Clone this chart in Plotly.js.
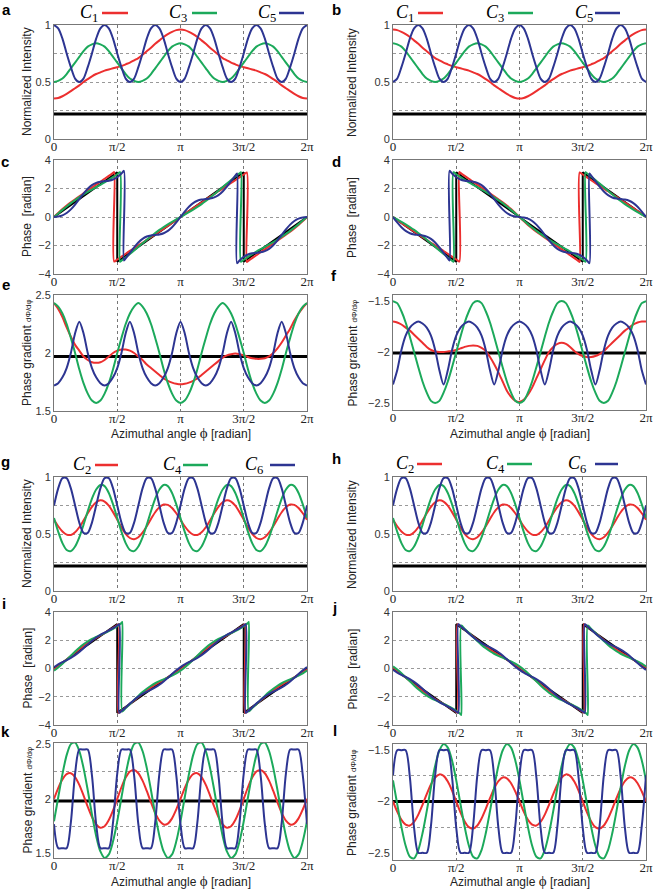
<!DOCTYPE html>
<html><head><meta charset="utf-8">
<script src="https://cdn.plot.ly/plotly-3.0.1.min.js"></script>
<style>html,body{margin:0;padding:0;background:#fff}#chart{width:654px;height:889px}</style>
</head><body><div id="chart"></div>
<script>
// azimuthal angle in units of pi
const PHI=[0,.0333,.0667,.1,.1333,.1667,.2,.2333,.2667,.3,.3333,.3667,.4,.4333,.4667,.5,.5333,.5667,.6,.6333,.6667,.7,.7333,.7667,.8,.8333,.8667,.9,.9333,.9667,1,1.0333,1.0667,1.1,1.1333,1.1667,1.2,1.2333,1.2667,1.3,1.3333,1.3667,1.4,1.4333,1.4667,1.5,1.5333,1.5667,1.6,1.6333,1.6667,1.7,1.7333,1.7667,1.8,1.8333,1.8667,1.9,1.9333,1.9667,2];
const X_TICKS=[0,0.5,1,1.5,2];
const X_TICK_TEXT=['0','π/2','π','3π/2','2π'];
const REF_X=[0,2];

// ---- a ----
const A_C1=[.355,.36,.375,.395,.42,.445,.47,.50,.525,.55,.57,.585,.60,.61,.62,.63,.64,.655,.67,.69,.71,.74,.77,.80,.835,.865,.895,.92,.94,.955,.96,.955,.94,.92,.895,.865,.835,.80,.77,.74,.71,.69,.67,.655,.64,.63,.62,.61,.60,.585,.57,.55,.525,.50,.47,.445,.42,.395,.375,.36,.355];
const A_C3=[.50,.51,.53,.57,.62,.67,.72,.77,.81,.83,.84,.83,.81,.77,.72,.67,.62,.57,.53,.51,.50,.51,.53,.57,.62,.67,.72,.77,.81,.83,.84,.83,.81,.77,.72,.67,.62,.57,.53,.51,.50,.51,.53,.57,.62,.67,.72,.77,.81,.83,.84,.83,.81,.77,.72,.67,.62,.57,.53,.51,.50];
const A_C5=[1,.97,.88,.75,.63,.53,.5,.53,.63,.75,.88,.97,1,.97,.88,.75,.63,.53,.5,.53,.63,.75,.88,.97,1,.97,.88,.75,.63,.53,.5,.53,.63,.75,.88,.97,1,.97,.88,.75,.63,.53,.5,.53,.63,.75,.88,.97,1,.97,.88,.75,.63,.53,.5,.53,.63,.75,.88,.97,1];
const A_REF=[.22,.22];
// ---- b ----
const B_C1=[.96,.955,.94,.92,.895,.865,.835,.80,.77,.74,.71,.69,.67,.655,.64,.63,.62,.61,.60,.585,.57,.55,.525,.50,.47,.445,.42,.395,.375,.36,.355,.36,.375,.395,.42,.445,.47,.50,.525,.55,.57,.585,.60,.61,.62,.63,.64,.655,.67,.69,.71,.74,.77,.80,.835,.865,.895,.92,.94,.955,.96];
const B_C3=[.84,.83,.81,.77,.72,.67,.62,.57,.53,.51,.50,.51,.53,.57,.62,.67,.72,.77,.81,.83,.84,.83,.81,.77,.72,.67,.62,.57,.53,.51,.50,.51,.53,.57,.62,.67,.72,.77,.81,.83,.84,.83,.81,.77,.72,.67,.62,.57,.53,.51,.50,.51,.53,.57,.62,.67,.72,.77,.81,.83,.84];
const B_C5=[.5,.53,.63,.75,.88,.97,1,.97,.88,.75,.63,.53,.5,.53,.63,.75,.88,.97,1,.97,.88,.75,.63,.53,.5,.53,.63,.75,.88,.97,1,.97,.88,.75,.63,.53,.5,.53,.63,.75,.88,.97,1,.97,.88,.75,.63,.53,.5,.53,.63,.75,.88,.97,1,.97,.88,.75,.63,.53,.5];
const B_REF=[.22,.22];
// ---- c ----
const C_C1=[0,.289,.559,.808,1.038,1.247,1.457,1.666,1.866,2.065,2.274,2.474,2.683,2.883,3.092,-2.981,-2.782,-2.582,-2.383,-2.193,-1.994,-1.805,-1.605,-1.416,-1.216,-1.017,-.818,-.618,-.409,-.209,0,.209,.409,.618,.818,1.017,1.216,1.416,1.605,1.805,1.994,2.193,2.383,2.582,2.782,2.981,-3.092,-2.883,-2.683,-2.474,-2.274,-2.065,-1.866,-1.666,-1.457,-1.247,-1.038,-.808,-.559,-.289,0];
const C_C1_JX=[.476,1.524], C_C1_JF=[3.15,3.13], C_C1_JT=[-3.13,-3.15];
const C_C3=[0,.252,.501,.741,.971,1.187,1.39,1.579,1.758,1.928,2.094,2.261,2.431,2.61,2.799,3.002,-3.065,-2.835,-2.595,-2.347,-2.094,-1.842,-1.593,-1.353,-1.123,-.907,-.705,-.515,-.337,-.166,0,.166,.337,.515,.705,.907,1.124,1.353,1.594,1.842,2.094,2.347,2.595,2.836,3.065,-3.001,-2.799,-2.609,-2.431,-2.261,-2.094,-1.928,-1.757,-1.579,-1.389,-1.187,-.971,-.741,-.501,-.252,0];
const C_C3_JX=[.522,1.478], C_C3_JF=[3.14,3.14], C_C3_JT=[-3.14,-3.14];
const C_C5=[0,.034,.116,.278,.535,.872,1.257,1.641,1.979,2.235,2.397,2.479,2.513,2.548,2.629,2.792,3.048,-2.897,-2.513,-2.129,-1.791,-1.535,-1.372,-1.291,-1.257,-1.222,-1.141,-.978,-.722,-.384,0,.384,.722,.978,1.141,1.222,1.257,1.291,1.373,1.535,1.791,2.129,2.513,2.898,-3.048,-2.792,-2.629,-2.548,-2.513,-2.479,-2.397,-2.235,-1.978,-1.641,-1.256,-.872,-.535,-.278,-.116,-.034,0];
const C_C5_JX=[.553,1.447], C_C5_JF=[3.24,3.05], C_C5_JT=[-3.05,-3.24];
const C_REF_X=[0,.5,.5,1.5,1.5,2], C_REF=[0,3.14,-3.14,3.14,-3.14,0];
// ---- d ----
const D_C1=[0,-.209,-.409,-.618,-.818,-1.017,-1.216,-1.416,-1.605,-1.805,-1.994,-2.193,-2.383,-2.582,-2.782,-2.981,3.092,2.883,2.683,2.474,2.274,2.065,1.866,1.666,1.457,1.247,1.038,.808,.559,.289,0,-.289,-.559,-.808,-1.038,-1.247,-1.457,-1.666,-1.866,-2.065,-2.274,-2.474,-2.683,-2.883,-3.092,2.981,2.782,2.582,2.383,2.193,1.994,1.805,1.605,1.416,1.216,1.017,.818,.618,.409,.209,0];
const D_C1_JX=[.524,1.476], D_C1_JF=[-3.13,-3.15], D_C1_JT=[3.15,3.13];
const D_C3=[0,-.166,-.337,-.515,-.705,-.907,-1.124,-1.353,-1.594,-1.842,-2.094,-2.347,-2.595,-2.836,-3.065,3.001,2.799,2.609,2.431,2.261,2.094,1.928,1.757,1.579,1.389,1.187,.971,.741,.501,.252,0,-.252,-.501,-.741,-.971,-1.187,-1.39,-1.579,-1.758,-1.928,-2.094,-2.261,-2.431,-2.61,-2.799,-3.002,3.065,2.835,2.595,2.347,2.094,1.842,1.593,1.353,1.123,.907,.705,.515,.337,.166,0];
const D_C3_JX=[.478,1.522], D_C3_JF=[-3.14,-3.14], D_C3_JT=[3.14,3.14];
const D_C5=[0,-.384,-.722,-.978,-1.141,-1.222,-1.257,-1.291,-1.373,-1.535,-1.791,-2.129,-2.513,-2.898,3.048,2.792,2.629,2.548,2.513,2.479,2.397,2.235,1.978,1.641,1.256,.872,.535,.278,.116,.034,0,-.034,-.116,-.278,-.535,-.872,-1.257,-1.641,-1.979,-2.235,-2.397,-2.479,-2.513,-2.548,-2.629,-2.792,-3.048,2.897,2.513,2.129,1.791,1.535,1.372,1.291,1.257,1.222,1.141,.978,.722,.384,0];
const D_C5_JX=[.447,1.553], D_C5_JF=[-3.05,-3.24], D_C5_JT=[3.24,3.05];
const D_REF_X=[0,.5,.5,1.5,1.5,2], D_REF=[0,-3.14,3.14,-3.14,3.14,0];
// ---- e ----
const E_C1=[2.43,2.38,2.31,2.22,2.14,2.07,2.02,1.97,1.94,1.92,1.915,1.92,1.94,1.97,2.0,2.02,2.03,2.03,2.02,2.0,1.97,1.94,1.9,1.87,1.84,1.81,1.78,1.76,1.745,1.735,1.73,1.735,1.745,1.76,1.78,1.81,1.84,1.87,1.9,1.93,1.96,1.98,1.99,1.995,1.99,1.98,1.965,1.955,1.95,1.95,1.955,1.97,2.0,2.04,2.09,2.15,2.21,2.28,2.34,2.39,2.43];
const E_C3=[2.43,2.40,2.34,2.25,2.13,2.0,1.86,1.74,1.65,1.59,1.57,1.59,1.65,1.74,1.86,2.0,2.13,2.25,2.34,2.40,2.43,2.40,2.34,2.25,2.13,2.0,1.86,1.74,1.65,1.59,1.57,1.59,1.65,1.74,1.86,2.0,2.13,2.25,2.34,2.40,2.43,2.40,2.34,2.25,2.13,2.0,1.86,1.74,1.65,1.59,1.57,1.59,1.65,1.74,1.86,2.0,2.13,2.25,2.34,2.40,2.43];
const E_C5=[1.72,1.74,1.79,1.87,2.0,2.17,2.27,2.17,2.0,1.87,1.79,1.74,1.72,1.74,1.79,1.87,2.0,2.17,2.27,2.17,2.0,1.87,1.79,1.74,1.72,1.74,1.79,1.87,2.0,2.17,2.27,2.17,2.0,1.87,1.79,1.74,1.72,1.74,1.79,1.87,2.0,2.17,2.27,2.17,2.0,1.87,1.79,1.74,1.72,1.74,1.79,1.87,2.0,2.17,2.27,2.17,2.0,1.87,1.79,1.74,1.72];
const E_REF=[1.97,1.97];
// ---- f ----
const F_C1=[-1.70,-1.71,-1.73,-1.76,-1.79,-1.83,-1.87,-1.91,-1.95,-1.98,-1.995,-2.0,-2.0,-1.995,-1.99,-1.98,-1.965,-1.95,-1.94,-1.935,-1.94,-1.96,-1.99,-2.05,-2.12,-2.2,-2.29,-2.38,-2.44,-2.48,-2.49,-2.47,-2.42,-2.35,-2.26,-2.17,-2.08,-2.0,-1.95,-1.92,-1.91,-1.92,-1.95,-1.99,-2.02,-2.04,-2.05,-2.05,-2.04,-2.02,-1.99,-1.95,-1.91,-1.87,-1.83,-1.79,-1.76,-1.73,-1.71,-1.70,-1.70];
const F_C3=[-1.5,-1.52,-1.6,-1.71,-1.85,-2.0,-2.15,-2.29,-2.4,-2.48,-2.5,-2.48,-2.4,-2.29,-2.15,-2.0,-1.85,-1.71,-1.6,-1.52,-1.5,-1.52,-1.6,-1.71,-1.85,-2.0,-2.15,-2.29,-2.4,-2.48,-2.5,-2.48,-2.4,-2.29,-2.15,-2.0,-1.85,-1.71,-1.6,-1.52,-1.5,-1.52,-1.6,-1.71,-1.85,-2.0,-2.15,-2.29,-2.4,-2.48,-2.5,-2.48,-2.4,-2.29,-2.15,-2.0,-1.85,-1.71,-1.6,-1.52,-1.5];
const F_C5=[-2.32,-2.18,-1.98,-1.84,-1.76,-1.72,-1.70,-1.72,-1.76,-1.84,-1.98,-2.18,-2.32,-2.18,-1.98,-1.84,-1.76,-1.72,-1.70,-1.72,-1.76,-1.84,-1.98,-2.18,-2.32,-2.18,-1.98,-1.84,-1.76,-1.72,-1.70,-1.72,-1.76,-1.84,-1.98,-2.18,-2.32,-2.18,-1.98,-1.84,-1.76,-1.72,-1.70,-1.72,-1.76,-1.84,-1.98,-2.18,-2.32,-2.18,-1.98,-1.84,-1.76,-1.72,-1.70,-1.72,-1.76,-1.84,-1.98,-2.18,-2.32];
const F_REF=[-2.01,-2.01];
// ---- g / h ----
const G_C2=[.625,.568,.522,.495,.492,.515,.559,.618,.682,.738,.778,.795,.784,.748,.692,.625,.558,.502,.465,.455,.472,.512,.568,.632,.691,.735,.758,.755,.728,.682,.625,.568,.522,.495,.492,.515,.559,.618,.682,.738,.778,.795,.784,.748,.692,.625,.558,.502,.465,.455,.472,.512,.568,.632,.691,.735,.758,.755,.728,.682,.625];
const G_C4=[.64,.52,.42,.36,.35,.39,.47,.58,.70,.81,.89,.93,.92,.86,.76,.64,.52,.42,.36,.35,.39,.47,.58,.70,.81,.89,.93,.92,.86,.76,.64,.52,.42,.36,.35,.39,.47,.58,.70,.81,.89,.93,.92,.86,.76,.64,.52,.42,.36,.35,.39,.47,.58,.70,.81,.89,.93,.92,.86,.76,.64];
const G_C6=[.75,.90,.99,.99,.90,.75,.60,.51,.51,.60,.75,.90,.99,.99,.90,.75,.60,.51,.51,.60,.75,.90,.99,.99,.90,.75,.60,.51,.51,.60,.75,.90,.99,.99,.90,.75,.60,.51,.51,.60,.75,.90,.99,.99,.90,.75,.60,.51,.51,.60,.75,.90,.99,.99,.90,.75,.60,.51,.51,.60,.75];
const G_REF=[.22,.22];
const H_C2=G_C2, H_C4=G_C4, H_C6=G_C6, H_REF=G_REF;
// ---- i ----
const I_C2=[-.07,.148,.382,.627,.878,1.127,1.368,1.594,1.804,1.996,2.174,2.344,2.512,2.686,2.871,3.072,-2.993,-2.759,-2.514,-2.264,-2.014,-1.774,-1.547,-1.338,-1.145,-.967,-.798,-.629,-.456,-.27,-.07,.148,.382,.627,.878,1.127,1.368,1.594,1.804,1.996,2.174,2.344,2.512,2.686,2.871,3.072,-2.993,-2.759,-2.514,-2.264,-2.014,-1.774,-1.547,-1.338,-1.145,-.967,-.798,-.629,-.456,-.27,-.07];
const I_C2_JX=[.511,1.511], I_C2_JF=[3.14,3.14], I_C2_JT=[-3.14,-3.14];
const I_C4=[-.15,.076,.335,.616,.909,1.197,1.469,1.712,1.922,2.097,2.244,2.375,2.501,2.639,2.799,2.992,3.218,-2.806,-2.525,-2.233,-1.944,-1.673,-1.429,-1.22,-1.044,-.897,-.767,-.64,-.503,-.342,-.15,.076,.335,.616,.909,1.197,1.469,1.712,1.922,2.097,2.244,2.375,2.501,2.639,2.799,2.992,3.218,-2.806,-2.525,-2.233,-1.944,-1.673,-1.429,-1.22,-1.044,-.897,-.767,-.64,-.503,-.342,-.15];
const I_C4_JX=[.54,1.54], I_C4_JF=[3.3,3.3], I_C4_JT=[-3.05,-3.05];
const I_C6=[.1,.29,.45,.597,.757,.947,1.176,1.435,1.707,1.966,2.194,2.385,2.544,2.692,2.851,3.042,-3.013,-2.753,-2.482,-2.223,-1.994,-1.804,-1.644,-1.497,-1.337,-1.147,-.919,-.659,-.388,-.128,.1,.29,.45,.597,.757,.947,1.176,1.435,1.707,1.966,2.194,2.385,2.544,2.692,2.851,3.042,-3.013,-2.753,-2.482,-2.223,-1.994,-1.804,-1.644,-1.497,-1.337,-1.147,-.919,-.659,-.388,-.128,.1];
const I_C6_JX=[.516,1.516], I_C6_JF=[3.14,3.14], I_C6_JT=[-3.14,-3.14];
const I_REF_X=[0,.5,.5,1.5,1.5,2], I_REF=[0,3.14,-3.14,3.14,-3.14,0];
// ---- j ----
const J_C2=[.07,-.148,-.382,-.627,-.878,-1.127,-1.368,-1.594,-1.804,-1.996,-2.174,-2.344,-2.512,-2.686,-2.871,-3.072,2.993,2.759,2.514,2.264,2.014,1.774,1.547,1.338,1.145,.967,.798,.629,.456,.27,.07,-.148,-.382,-.627,-.878,-1.127,-1.368,-1.594,-1.804,-1.996,-2.174,-2.344,-2.512,-2.686,-2.871,-3.072,2.993,2.759,2.514,2.264,2.014,1.774,1.547,1.338,1.145,.967,.798,.629,.456,.27,.07];
const J_C2_JX=[.511,1.511], J_C2_JF=[-3.14,-3.14], J_C2_JT=[3.14,3.14];
const J_C4=[.15,-.076,-.335,-.616,-.909,-1.197,-1.469,-1.712,-1.922,-2.097,-2.244,-2.375,-2.501,-2.639,-2.799,-2.992,-3.218,2.806,2.525,2.233,1.944,1.673,1.429,1.22,1.044,.897,.767,.64,.503,.342,.15,-.076,-.335,-.616,-.909,-1.197,-1.469,-1.712,-1.922,-2.097,-2.244,-2.375,-2.501,-2.639,-2.799,-2.992,-3.218,2.806,2.525,2.233,1.944,1.673,1.429,1.22,1.044,.897,.767,.64,.503,.342,.15];
const J_C4_JX=[.54,1.54], J_C4_JF=[-3.3,-3.3], J_C4_JT=[3.05,3.05];
const J_C6=[-.1,-.29,-.45,-.597,-.757,-.947,-1.176,-1.435,-1.707,-1.966,-2.194,-2.385,-2.544,-2.692,-2.851,-3.042,3.013,2.753,2.482,2.223,1.994,1.804,1.644,1.497,1.337,1.147,.919,.659,.388,.128,-.1,-.29,-.45,-.597,-.757,-.947,-1.176,-1.435,-1.707,-1.966,-2.194,-2.385,-2.544,-2.692,-2.851,-3.042,3.013,2.753,2.482,2.223,1.994,1.804,1.644,1.497,1.337,1.147,.919,.659,.388,.128,-.1];
const J_C6_JX=[.516,1.516], J_C6_JF=[-3.14,-3.14], J_C6_JT=[3.14,3.14];
const J_REF_X=[0,.5,.5,1.5,1.5,2], J_REF=[0,-3.14,3.14,-3.14,3.14,0];
// ---- k ----
const K_C2=[2.0,2.098,2.178,2.226,2.234,2.199,2.128,2.032,1.928,1.834,1.766,1.736,1.75,1.806,1.894,2.0,2.106,2.194,2.25,2.264,2.234,2.166,2.072,1.968,1.872,1.801,1.766,1.774,1.822,1.903,2.0,2.098,2.178,2.226,2.234,2.199,2.128,2.032,1.928,1.834,1.766,1.736,1.75,1.806,1.894,2.0,2.106,2.194,2.25,2.264,2.234,2.166,2.072,1.968,1.872,1.801,1.766,1.774,1.822,1.903,2.0];
const K_C4=[1.795,2.012,2.226,2.399,2.5,2.514,2.437,2.283,2.079,1.858,1.661,1.52,1.461,1.493,1.612,1.795,2.012,2.226,2.399,2.5,2.514,2.437,2.283,2.079,1.858,1.661,1.52,1.461,1.493,1.612,1.795,2.012,2.226,2.399,2.5,2.514,2.437,2.283,2.079,1.858,1.661,1.52,1.461,1.493,1.612,1.795,2.012,2.226,2.399,2.5,2.514,2.437,2.283,2.079,1.858,1.661,1.52,1.461,1.493,1.612,1.795];
const K_C6=[1.769,1.55,1.55,1.55,1.786,2.231,2.45,2.45,2.45,2.214,1.769,1.55,1.55,1.55,1.786,2.231,2.45,2.45,2.45,2.214,1.769,1.55,1.55,1.55,1.786,2.231,2.45,2.45,2.45,2.214,1.769,1.55,1.55,1.55,1.786,2.231,2.45,2.45,2.45,2.214,1.769,1.55,1.55,1.55,1.786,2.231,2.45,2.45,2.45,2.214,1.769,1.55,1.55,1.55,1.786,2.231,2.45,2.45,2.45,2.214,1.769];
const K_REF=[1.98,1.98];
// ---- l ----
const L_C2=[-2.0,-2.098,-2.178,-2.226,-2.234,-2.199,-2.128,-2.032,-1.928,-1.834,-1.766,-1.736,-1.75,-1.806,-1.894,-2.0,-2.106,-2.194,-2.25,-2.264,-2.234,-2.166,-2.072,-1.968,-1.872,-1.801,-1.766,-1.774,-1.822,-1.903,-2.0,-2.098,-2.178,-2.226,-2.234,-2.199,-2.128,-2.032,-1.928,-1.834,-1.766,-1.736,-1.75,-1.806,-1.894,-2.0,-2.106,-2.194,-2.25,-2.264,-2.234,-2.166,-2.072,-1.968,-1.872,-1.801,-1.766,-1.774,-1.822,-1.903,-2.0];
const L_C4=[-1.794,-2.024,-2.249,-2.432,-2.539,-2.554,-2.473,-2.31,-2.094,-1.861,-1.652,-1.503,-1.441,-1.475,-1.6,-1.794,-2.024,-2.249,-2.432,-2.539,-2.554,-2.473,-2.31,-2.094,-1.861,-1.652,-1.503,-1.441,-1.475,-1.6,-1.794,-2.024,-2.249,-2.432,-2.539,-2.554,-2.473,-2.31,-2.094,-1.861,-1.652,-1.503,-1.441,-1.475,-1.6,-1.794,-2.024,-2.249,-2.432,-2.539,-2.554,-2.473,-2.31,-2.094,-1.861,-1.652,-1.503,-1.441,-1.475,-1.6,-1.794];
const L_C6=[-1.744,-1.5,-1.5,-1.5,-1.762,-2.257,-2.5,-2.5,-2.5,-2.238,-1.744,-1.5,-1.5,-1.5,-1.762,-2.257,-2.5,-2.5,-2.5,-2.238,-1.744,-1.5,-1.5,-1.5,-1.762,-2.257,-2.5,-2.5,-2.5,-2.238,-1.744,-1.5,-1.5,-1.5,-1.762,-2.257,-2.5,-2.5,-2.5,-2.238,-1.744,-1.5,-1.5,-1.5,-1.762,-2.257,-2.5,-2.5,-2.5,-2.238,-1.744,-1.5,-1.5,-1.5,-1.762,-2.257,-2.5,-2.5,-2.5,-2.238,-1.744];
const L_REF=[-2.0,-2.0];

// ---------- build ----------
const W=654,H=889;
const RED='#ec2f2f',GREEN='#1ca95b',BLUE='#2d3592',BLACK='#000';
const COLX=[[54,307],[393,646]];

function withJumps(x,y,jx,jf,jt){
  const X=[],Y=[];let j=0;
  for(let i=0;i<x.length;i++){
    while(j<jx.length&&jx[j]<x[i]){X.push(jx[j],jx[j]);Y.push(jf[j],jt[j]);j++;}
    X.push(x[i]);Y.push(y[i]);
  }
  return {x:X,y:Y};
}
const GT='Phase gradient <span style="font-size:8px">dΦ/dφ</span>';
const YCFG={
  int:{range:[0,1],tickvals:[0,.5,1],ticktext:['0','0.5','1'],grid:true,minor:[.25,.75],title:'Normalized Intensity'},
  ph:{range:[-4,4],tickvals:[-4,-2,0,2,4],ticktext:['\u22124','\u22122','0','2','4'],grid:true,minor:null,title:'Phase  [radian]'},
  e:{range:[1.5,2.5],tickvals:[1.5,2,2.5],ticktext:['1.5','2','2.5'],grid:false,minor:null,title:GT},
  f:{range:[-2.57,-1.44],tickvals:[-2.5,-2,-1.5],ticktext:['\u22122.5','\u22122','\u22121.5'],grid:false,minor:null,title:GT},
  k:{range:[1.46,2.51],tickvals:[1.5,2,2.5],ticktext:['1.5','2','2.5'],grid:false,minor:[1.75,2.25],title:GT},
  l:{range:[-2.57,-1.44],tickvals:[-2.5,-2,-1.5],ticktext:['\u22122.5','\u22122','\u22121.5'],grid:false,minor:[-2.25,-1.75],title:GT}
};
const PANELS=[
 {L:'a',col:0,top:25,bot:139,cfg:'int',ref:[REF_X,A_REF],s:[[A_C1,RED],[A_C3,GREEN],[A_C5,BLUE]],lp:[6,10]},
 {L:'b',col:1,top:25,bot:139,cfg:'int',ref:[REF_X,B_REF],s:[[B_C1,RED],[B_C3,GREEN],[B_C5,BLUE]],lp:[336,10]},
 {L:'c',col:0,top:160,bot:274,cfg:'ph',ref:[C_REF_X,C_REF],s:[[C_C1,RED,C_C1_JX,C_C1_JF,C_C1_JT],[C_C3,GREEN,C_C3_JX,C_C3_JF,C_C3_JT],[C_C5,BLUE,C_C5_JX,C_C5_JF,C_C5_JT]],lp:[5,162]},
 {L:'d',col:1,top:160,bot:274,cfg:'ph',ref:[D_REF_X,D_REF],s:[[D_C1,RED,D_C1_JX,D_C1_JF,D_C1_JT],[D_C3,GREEN,D_C3_JX,D_C3_JF,D_C3_JT],[D_C5,BLUE,D_C5_JX,D_C5_JF,D_C5_JT]],lp:[336,162]},
 {L:'e',col:0,top:295,bot:411,cfg:'e',ref:[REF_X,E_REF],s:[[E_C1,RED],[E_C3,GREEN],[E_C5,BLUE]],lp:[6,284],xt:433},
 {L:'f',col:1,top:295,bot:410,cfg:'f',ref:[REF_X,F_REF],s:[[F_C1,RED],[F_C3,GREEN],[F_C5,BLUE]],lp:[334,275],xt:433},
 {L:'g',col:0,top:477,bot:591,cfg:'int',ref:[REF_X,G_REF],s:[[G_C2,RED],[G_C4,GREEN],[G_C6,BLUE]],lp:[5,462]},
 {L:'h',col:1,top:477,bot:591,cfg:'int',ref:[REF_X,H_REF],s:[[H_C2,RED],[H_C4,GREEN],[H_C6,BLUE]],lp:[336,458]},
 {L:'i',col:0,top:612,bot:725,cfg:'ph',ref:[I_REF_X,I_REF],s:[[I_C2,RED,I_C2_JX,I_C2_JF,I_C2_JT],[I_C4,GREEN,I_C4_JX,I_C4_JF,I_C4_JT],[I_C6,BLUE,I_C6_JX,I_C6_JF,I_C6_JT]],lp:[4,603]},
 {L:'j',col:1,top:612,bot:725,cfg:'ph',ref:[J_REF_X,J_REF],s:[[J_C2,RED,J_C2_JX,J_C2_JF,J_C2_JT],[J_C4,GREEN,J_C4_JX,J_C4_JF,J_C4_JT],[J_C6,BLUE,J_C6_JX,J_C6_JF,J_C6_JT]],lp:[334,607]},
 {L:'k',col:0,top:743,bot:858,cfg:'k',ref:[REF_X,K_REF],s:[[K_C2,RED],[K_C4,GREEN],[K_C6,BLUE]],lp:[5,731],xt:881},
 {L:'l',col:1,top:744,bot:860,cfg:'l',ref:[REF_X,L_REF],s:[[L_C2,RED],[L_C4,GREEN],[L_C6,BLUE]],lp:[335,730],xt:881}
];
const traces=[],layout={width:W,height:H,margin:{l:0,r:0,t:0,b:0},showlegend:false,paper_bgcolor:'#fff',plot_bgcolor:'#fff',annotations:[],shapes:[]};
const px=v=>v/W, py=v=>1-v/H;
PANELS.forEach((p,idx)=>{
  const n=idx+1, xa='x'+(n===1?'':n), ya='y'+(n===1?'':n);
  const c=YCFG[p.cfg], cx=COLX[p.col];
  layout['xaxis'+(n===1?'':n)]={domain:[px(cx[0]),px(cx[1])],anchor:ya,range:[0,2],tickvals:X_TICKS,ticktext:X_TICK_TEXT,
    showgrid:true,gridcolor:'#777',griddash:'dot',gridwidth:1,zeroline:false,showline:true,mirror:true,linecolor:'#777',linewidth:1,
    ticks:'',ticklabelstandoff:-5,tickfont:{family:'Liberation Serif, serif',size:13,color:'#222'},fixedrange:true};
  const ya_cfg={domain:[py(p.bot),py(p.top)],anchor:xa,range:c.range,tickvals:c.tickvals,ticktext:c.ticktext,
    showgrid:c.grid,gridcolor:'#999',griddash:'dot',gridwidth:1,zeroline:false,showline:true,mirror:true,linecolor:'#777',linewidth:1,
    ticks:'',tickfont:{family:'Liberation Sans, Arial, sans-serif',size:11,color:'#333'},fixedrange:true};
  if(c.minor) ya_cfg.minor={tickmode:'array',tickvals:c.minor,showgrid:true,gridcolor:'#999',griddash:'dot',gridwidth:1,ticks:''};
  layout['yaxis'+(n===1?'':n)]=ya_cfg;
  const isPh=p.cfg==='ph';
  traces.push({x:p.ref[0],y:p.ref[1],xaxis:xa,yaxis:ya,mode:'lines',line:{color:BLACK,width:isPh?2:3},hoverinfo:'skip'});
  p.s.forEach(sr=>{
    let d={x:PHI,y:sr[0]};
    if(sr.length>2) d=withJumps(PHI,sr[0],sr[2],sr[3],sr[4]);
    traces.push({x:d.x,y:d.y,xaxis:xa,yaxis:ya,mode:'lines',line:{color:sr[1],width:2,shape:'spline',smoothing:0.8},hoverinfo:'skip'});
  });
  layout.annotations.push({xref:'paper',yref:'paper',x:px(p.lp[0]),y:py(p.lp[1]),text:'<b>'+p.L+'</b>',showarrow:false,
    font:{family:'Liberation Sans, Arial, sans-serif',size:15,color:'#000'},xanchor:'center',yanchor:'middle'});
  layout.annotations.push({xref:'paper',yref:'paper',x:px(p.col?352:27),y:py((p.top+p.bot)/2),text:c.title,textangle:-90,showarrow:false,
    font:{family:'Liberation Sans, Arial, sans-serif',size:12,color:'#222'},xanchor:'center',yanchor:'middle'});
  if(p.xt){
    layout.annotations.push({xref:'paper',yref:'paper',x:px((cx[0]+cx[1])/2),y:py(p.xt),
      text:'Azimuthal angle <span style="font-family:Liberation Serif;font-size:15px">ϕ</span> [radian]',showarrow:false,
      font:{family:'Liberation Sans, Arial, sans-serif',size:12,color:'#222'},xanchor:'center',yanchor:'middle'});
  }
});
const LEG=[
 {y:13,items:[['1',89,102,128,RED],['3',178,192,217,GREEN],['5',267,279,304,BLUE]]},
 {y:13,items:[['1',405,418,443,RED],['3',495,508,533,GREEN],['5',584,595,620,BLUE]]},
 {y:465,items:[['2',82,95,118,RED],['4',172,183,208,GREEN],['6',254,270,295,BLUE]]},
 {y:464,items:[['2',405,417,442,RED],['4',495,507,532,GREEN],['6',577,595,618,BLUE]]}
];
LEG.forEach(g=>g.items.forEach(it=>{
  layout.annotations.push({xref:'paper',yref:'paper',x:px(it[1]),y:py(g.y),text:'<i>C</i><sub>'+it[0]+'</sub>',showarrow:false,
    font:{family:'Liberation Serif, serif',size:18,color:'#000'},xanchor:'center',yanchor:'middle'});
  layout.shapes.push({type:'line',xref:'paper',yref:'paper',x0:px(it[2]),x1:px(it[3]),y0:py(g.y),y1:py(g.y),line:{color:it[4],width:2.5}});
}));
Plotly.newPlot('chart',traces,layout,{staticPlot:true});
</script></body></html>
